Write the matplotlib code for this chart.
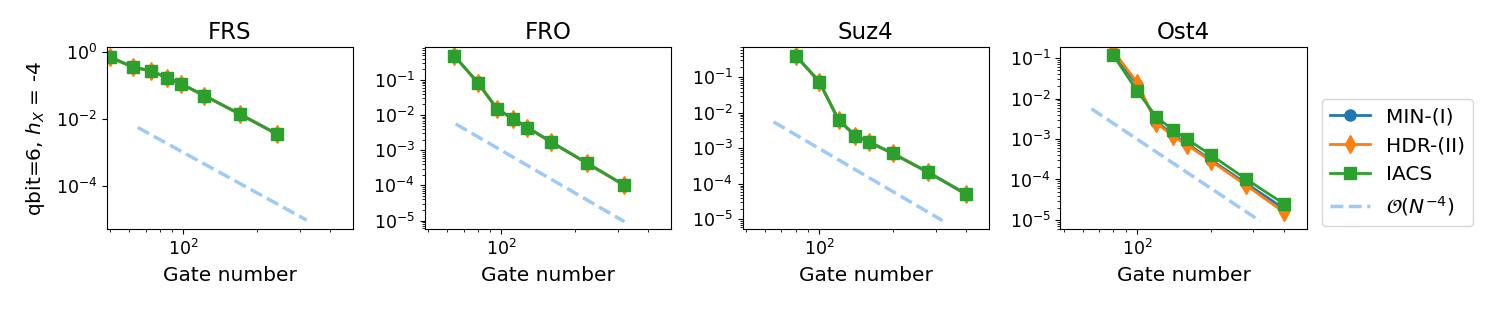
import numpy as np
import matplotlib
matplotlib.use("Agg")
import matplotlib.pyplot as plt

# gate numbers per circuit
titles = ["FRS", "FRO", "Suz4", "Ost4"]
gates_frs = [50, 62, 74, 86, 98, 122, 170, 242]
gates_fro = [64, 80, 96, 112, 128, 160, 224, 320]
gates_suz = [80, 100, 120, 140, 160, 200, 280, 400]
gates_ost = [80, 100, 120, 140, 160, 200, 280, 400]

# errors
min_frs = [0.74, 0.37, 0.28, 0.175, 0.115, 0.051, 0.0145, 0.0036]
hdr_frs = [0.72, 0.36, 0.275, 0.17, 0.112, 0.050, 0.0141, 0.0035]
iacs_frs = [0.72, 0.36, 0.275, 0.17, 0.112, 0.050, 0.0141, 0.0035]

min_fro = [0.50, 0.086, 0.0155, 0.0078, 0.0045, 0.00175, 4.4e-4, 1.02e-4]
hdr_fro = [0.49, 0.084, 0.015, 0.0076, 0.0044, 0.0017, 4.3e-4, 1.0e-4]
iacs_fro = [0.49, 0.084, 0.015, 0.0076, 0.0044, 0.0017, 4.3e-4, 1.0e-4]

min_suz = [0.42, 0.078, 6.5e-3, 2.4e-3, 1.55e-3, 7.4e-4, 2.15e-4, 5.3e-5]
hdr_suz = [0.41, 0.075, 6.3e-3, 2.3e-3, 1.5e-3, 7.2e-4, 2.1e-4, 5.1e-5]
iacs_suz = [0.41, 0.075, 6.3e-3, 2.3e-3, 1.5e-3, 7.2e-4, 2.1e-4, 5.1e-5]

min_ost = [0.13, 0.022, 2.7e-3, 1.3e-3, 7.8e-4, 3.1e-4, 8.0e-5, 1.9e-5]
hdr_ost = [0.15, 0.025, 2.5e-3, 1.2e-3, 7.2e-4, 2.9e-4, 7.2e-5, 1.55e-5]
iacs_ost = [0.117, 0.0155, 3.5e-3, 1.7e-3, 1.0e-3, 4.1e-4, 1.02e-4, 2.5e-5]

# O(N^-4) guide line endpoints
ref_x = [65, 320]
ref_y = [5.6e-3, 9.3e-6]

ylims = [(10**-5.3, 10**0.16), (10**-5.24, 10**-0.067),
         (10**-5.27, 10**-0.147), (10**-5.225, 10**-0.725)]

gates = [gates_frs, gates_fro, gates_suz, gates_ost]
mins = [min_frs, min_fro, min_suz, min_ost]
hdrs = [hdr_frs, hdr_fro, hdr_suz, hdr_ost]
iacss = [iacs_frs, iacs_fro, iacs_suz, iacs_ost]

fig, axes = plt.subplots(1, 4, figsize=(14.95, 3.12), dpi=100)
fig.subplots_adjust(left=0.0714, right=0.8742, top=0.849, bottom=0.266, wspace=0.29)

for i, ax in enumerate(axes):
    ax.plot(gates[i], mins[i], marker='o', color='C0', lw=2, ms=8, label='MIN-(I)')
    ax.plot(gates[i], hdrs[i], marker='d', color='C1', lw=2, ms=9, label='HDR-(II)')
    ax.plot(gates[i], iacss[i], marker='s', color='C2', lw=2, ms=8, label='IACS')
    ax.plot(ref_x, ref_y, '--', color='#9dcbf7', lw=2.5, label=r'$\mathcal{O}(N^{-4})$')
    ax.set_xscale('log')
    ax.set_yscale('log')
    ax.set_xlim(48.5, 497)
    ax.set_ylim(*ylims[i])
    ax.set_title(titles[i], fontsize=16.5)
    ax.set_xlabel('Gate number', fontsize=14.5, labelpad=5)
    ax.tick_params(labelsize=12.5)

axes[0].set_ylabel(r'qbit=6, $h_X$ = -4', fontsize=14.5, labelpad=6)
axes[-1].legend(loc='lower left', bbox_to_anchor=(1.02, -0.04), fontsize=14.5)

fig.savefig('out.png')
